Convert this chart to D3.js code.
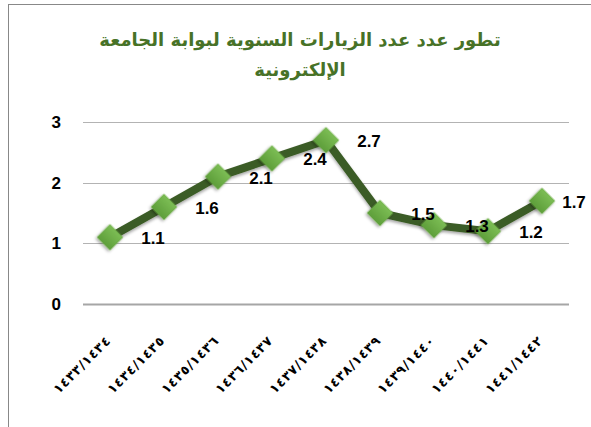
<!DOCTYPE html>
<html>
<head>
<meta charset="utf-8">
<script src="https://cdn.jsdelivr.net/npm/d3@7"></script>
<style>
  body { margin: 0; background: #fff; }
  svg { display: block; }
</style>
</head>
<body>
<div id="chart"></div>
<script>
// data
var years = ["١٤٣٣/١٤٣٤", "١٤٣٤/١٤٣٥", "١٤٣٥/١٤٣٦", "١٤٣٦/١٤٣٧", "١٤٣٧/١٤٣٨",
             "١٤٣٨/١٤٣٩", "١٤٣٩/١٤٤٠", "١٤٤٠/١٤٤١", "١٤٤١/١٤٤٢"];
var visits = [1.1, 1.6, 2.1, 2.4, 2.7, 1.5, 1.3, 1.2, 1.7];
var yTicks = [0, 1, 2, 3];
var titleLines = ["تطور عدد عدد الزيارات السنوية لبوابة الجامعة", "الإلكترونية"];

(function() {
	var width = 591;
	var height = 427;
	var margin = {left: 83, right: 22, top: 122, bottom: 123};

	var svg = d3.select("#chart")
				.append("svg")
				.attr("width", width)
				.attr("height", height);

	var defs = svg.append("defs");
	var grad = defs.append("linearGradient")
				   .attr("id", "mk")
				   .attr("x1", 0).attr("y1", 0).attr("x2", 0).attr("y2", 1);
	grad.append("stop").attr("offset", "0%").attr("stop-color", "#7cbd55");
	grad.append("stop").attr("offset", "100%").attr("stop-color", "#5e9e3a");

	var shadow = defs.append("filter")
					 .attr("id", "sh")
					 .attr("x", "-50%").attr("y", "-50%")
					 .attr("width", "200%").attr("height", "200%");
	shadow.append("feDropShadow")
		  .attr("dx", 0).attr("dy", 2)
		  .attr("stdDeviation", 1.8)
		  .attr("flood-color", "#000")
		  .attr("flood-opacity", 0.35);

	// outer chart border (clipped on right and bottom)
	svg.append("rect")
	   .attr("x", 8.5).attr("y", 4.5)
	   .attr("width", 600).attr("height", 440)
	   .attr("fill", "none")
	   .attr("stroke", "#888")
	   .attr("stroke-width", 1);

	// title
	svg.append("text")
	   .attr("x", 300)
	   .attr("y", 46)
	   .attr("text-anchor", "middle")
	   .attr("direction", "rtl")
	   .attr("font-family", "DejaVu Sans")
	   .attr("font-weight", "bold")
	   .attr("font-size", 18)
	   .attr("fill", "#477227")
	   .selectAll("tspan")
	   .data(titleLines)
	   .enter()
	   .append("tspan")
	   .attr("x", 300)
	   .attr("dy", function(d, i) { return i === 0 ? 0 : 30; })
	   .text(function(d) { return d; });

	var xScale = d3.scaleBand()
				   .domain(years)
				   .range([margin.left, width - margin.right]);

	var yScale = d3.scaleLinear()
				   .domain([0, 3])
				   .range([height - margin.bottom, margin.top]);

	// gridlines
	svg.append("g")
	   .selectAll("line")
	   .data(yTicks)
	   .enter()
	   .append("line")
	   .attr("x1", margin.left)
	   .attr("x2", width - margin.right)
	   .attr("y1", function(d) { return Math.round(yScale(d)) + 0.5; })
	   .attr("y2", function(d) { return Math.round(yScale(d)) + 0.5; })
	   .attr("stroke", function(d) { return d === 0 ? "#a6a6a6" : "#b3b3b3"; })
	   .attr("stroke-width", function(d) { return d === 0 ? 2 : 1; });

	// y axis labels
	var yAxis = d3.axisLeft(yScale)
				  .tickValues(yTicks)
				  .tickSize(0)
				  .tickPadding(22)
				  .tickFormat(d3.format("d"));

	var yg = svg.append("g")
				.attr("transform", "translate(" + margin.left + ",0)")
				.call(yAxis);
	yg.select(".domain").remove();
	yg.selectAll("text")
	  .attr("font-family", "Liberation Sans")
	  .attr("font-weight", "bold")
	  .attr("font-size", 17)
	  .attr("fill", "#000");

	// x axis labels, rotated and spread out like the original
	var xg = svg.append("g");
	xg.selectAll("text")
	  .data(years)
	  .enter()
	  .append("text")
	  .attr("transform", function(d) {
		  var x = xScale(d) + xScale.bandwidth() / 2 + 1;
		  return "translate(" + x + "," + 342 + ")rotate(-45)";
	  })
	  .attr("text-anchor", "end")
	  .attr("direction", "ltr")
	  .attr("font-family", "DejaVu Sans")
	  .attr("font-weight", "bold")
	  .attr("font-size", 13)
	  .attr("textLength", 74)
	  .attr("lengthAdjust", "spacing")
	  .attr("fill", "#000")
	  .text(function(d) { return d; });

	var cx = function(d, i) { return xScale(years[i]) + xScale.bandwidth() / 2; };

	// line
	var line = d3.line()
				 .x(function(d, i) { return cx(d, i); })
				 .y(function(d) { return yScale(d); });

	svg.append("path")
	   .datum(visits)
	   .attr("d", line)
	   .attr("fill", "none")
	   .attr("stroke", "#3b5b25")
	   .attr("stroke-width", 8)
	   .attr("stroke-linejoin", "round")
	   .attr("filter", "url(#sh)");

	// markers
	var symbol = d3.symbol().type(d3.symbolSquare).size(330);
	svg.append("g")
	   .selectAll("path")
	   .data(visits)
	   .enter()
	   .append("path")
	   .attr("d", symbol)
	   .attr("transform", function(d, i) {
		   return "translate(" + cx(d, i) + "," + yScale(d) + ")rotate(45)";
	   })
	   .attr("fill", "url(#mk)")
	   .attr("stroke", "#69ab44")
	   .attr("stroke-width", 0.5)
	   .attr("filter", "url(#sh)");

	// value labels, kept inside the chart box
	svg.append("g")
	   .selectAll("text")
	   .data(visits)
	   .enter()
	   .append("text")
	   .attr("x", function(d, i) { return Math.min(cx(d, i) + 43, width - 17); })
	   .attr("y", function(d) { return yScale(d) + 7; })
	   .attr("text-anchor", "middle")
	   .attr("font-family", "Liberation Sans")
	   .attr("font-weight", "bold")
	   .attr("font-size", 17)
	   .attr("fill", "#000")
	   .text(function(d) { return d3.format(".1f")(d); });
}());
</script>
</body>
</html>
